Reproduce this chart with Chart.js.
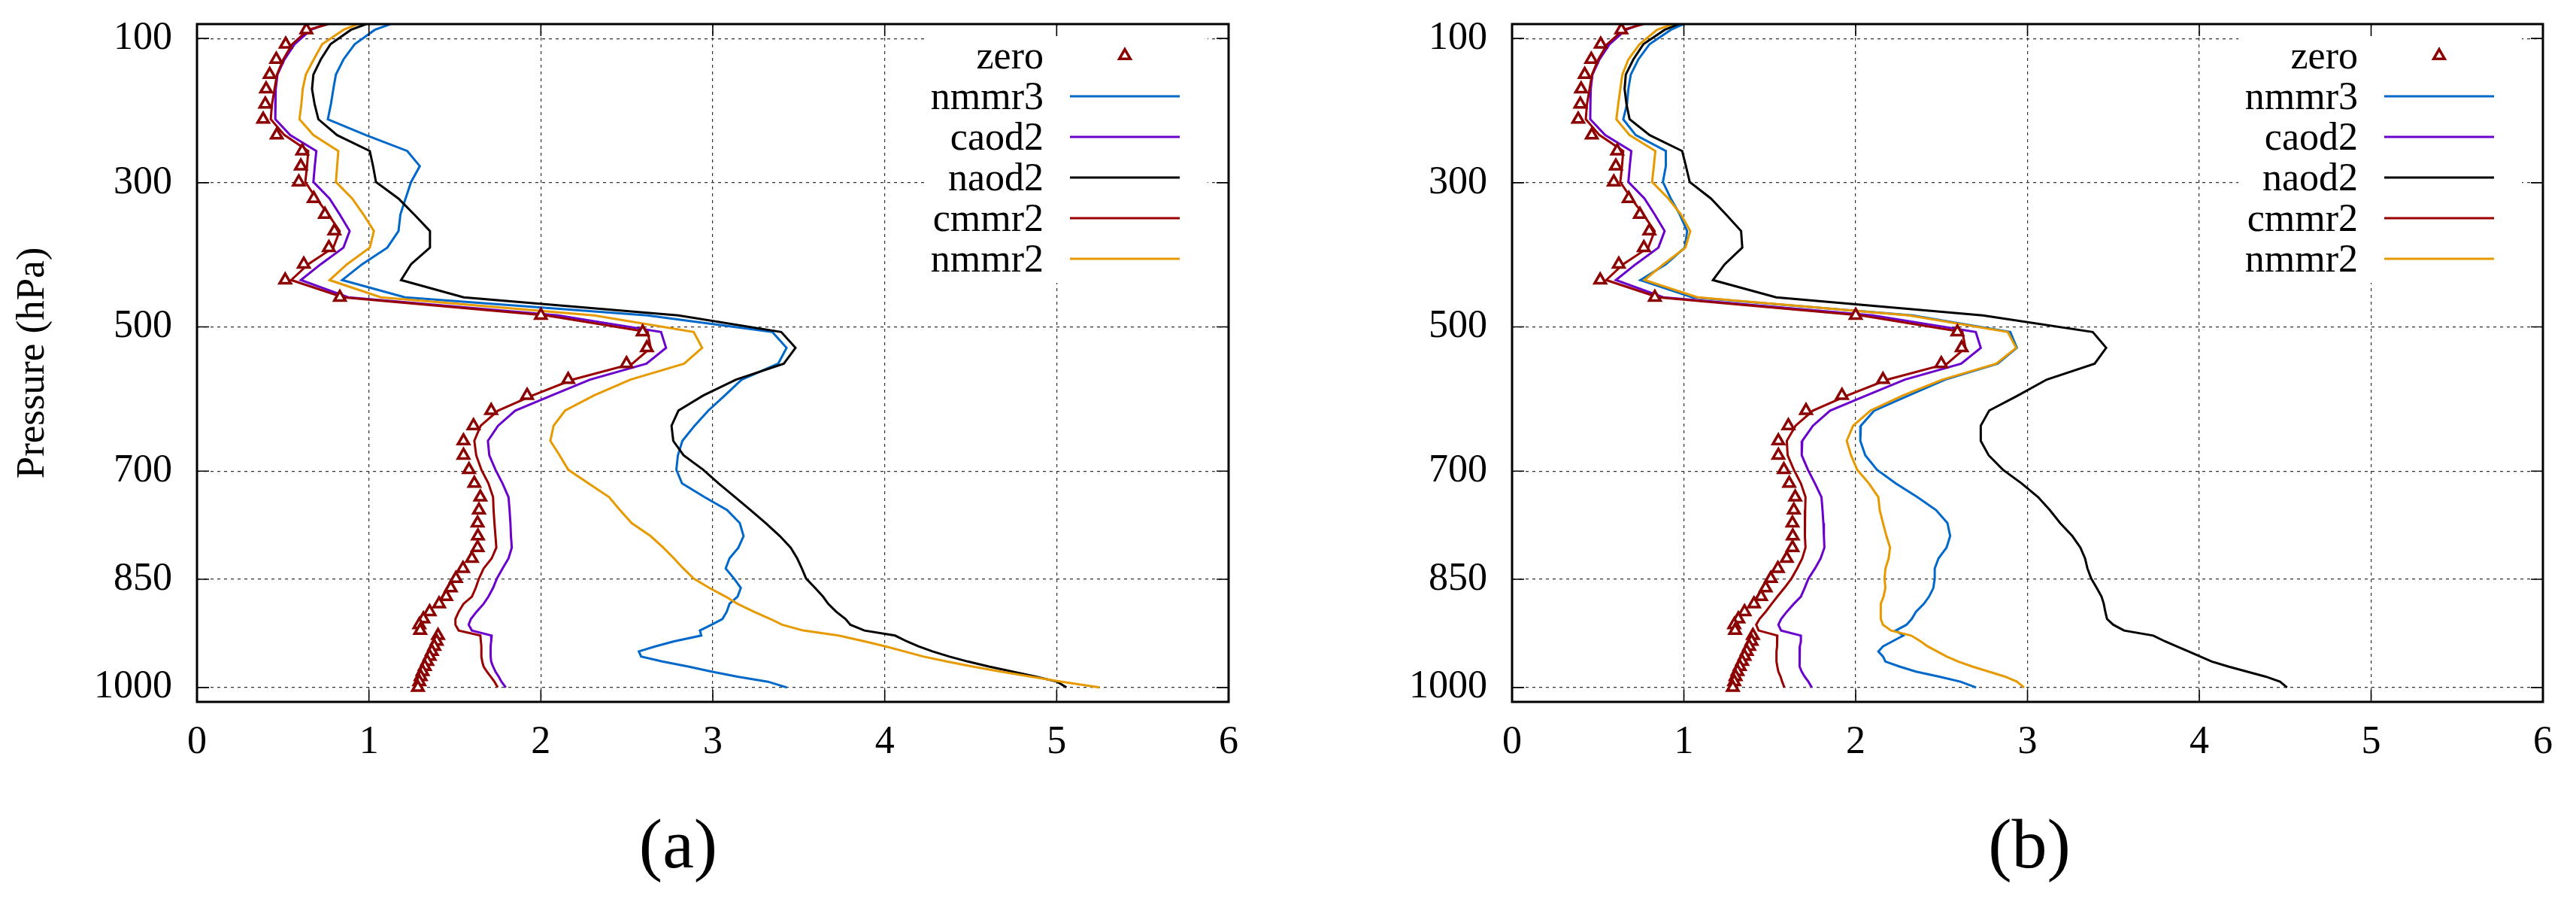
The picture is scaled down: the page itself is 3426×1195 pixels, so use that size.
<!DOCTYPE html>
<html>
<head>
<meta charset="utf-8">
<title>Pressure profiles</title>
<script src="https://cdn.jsdelivr.net/npm/chart.js@4.4.1/dist/chart.umd.min.js"></script>
<style>
  html, body { margin: 0; padding: 0; background: #fff; }
  body { width: 3426px; height: 1195px; position: relative; overflow: hidden; }
  canvas { position: absolute; top: 0; }
  #chartA { left: 0; }
  #chartB { left: 1713px; }
</style>
</head>
<body>
<canvas id="chartA" width="1713" height="1195"></canvas>
<canvas id="chartB" width="1713" height="1195"></canvas>
<script>
// pressure levels (hPa) from the top of the plot down to the surface
const levels = [80, 88, 108, 129, 150, 170, 191, 212, 234, 256,
  277, 299, 322, 344, 367, 390, 413, 435, 459, 484,
  507, 529, 551, 573, 595, 616, 637, 658, 678, 698,
  717, 736, 754, 772, 790, 806, 821, 835, 849, 862,
  874, 884, 895, 905, 913, 921, 928, 936, 943, 950,
  957, 964, 971, 978, 985, 992, 1000];

const pressureTicks = [100, 300, 500, 700, 850, 1000];
const xTicks = [0, 1, 2, 3, 4, 5, 6];

const seriesNames = ["zero", "nmmr3", "caod2", "naod2", "cmmr2", "nmmr2"];
const seriesColors = ["#8b0000", "#0068c9", "#6a00cc", "#000000", "#990000", "#e69a00"];

// control run, same in both panels
const zero = [null, 0.636, 0.516, 0.461, 0.423, 0.402, 0.397, 0.385, 0.464, 0.612,
  0.604, 0.592, 0.679, 0.744, 0.799, 0.767, 0.621, 0.513, 0.831, 2.00,
  2.592, 2.617, 2.498, 2.159, 1.920, 1.711, 1.608, 1.550, 1.550, 1.582,
  1.613, 1.648, 1.640, 1.632, 1.634, 1.632, 1.599, 1.547, 1.506, 1.476,
  1.449, 1.408, 1.353, 1.317, 1.293, 1.298, 1.402, 1.394, 1.380, 1.366,
  1.353, 1.339, 1.325, 1.312, 1.301, 1.293, 1.285];

// panel (a)
const nmmr3A = [1.125, 1.034, 0.917, 0.852, 0.808, 0.793, 0.779, 0.761, 0.983, 1.223,
  1.296, 1.245, 1.213, 1.183, 1.172, 1.107, 0.961, 0.844, 1.21, 2.62,
  3.346, 3.429, 3.380, 3.168, 3.07, 2.974, 2.894, 2.823, 2.797, 2.788,
  2.821, 2.952, 3.083, 3.157, 3.179, 3.149, 3.097, 3.075, 3.124, 3.163,
  3.144, 3.097, 3.081, 3.056, 2.993, 2.925, 2.933, 2.775, 2.665, 2.570,
  2.583, 2.706, 2.857, 2.993, 3.144, 3.321, 3.431];
const caod2A = [0.750, 0.662, 0.567, 0.509, 0.468, 0.458, 0.456, 0.455, 0.542, 0.694,
  0.685, 0.677, 0.771, 0.830, 0.888, 0.852, 0.720, 0.604, 0.88, 2.10,
  2.699, 2.728, 2.614, 2.286, 2.063, 1.851, 1.751, 1.692, 1.700, 1.736,
  1.777, 1.812, 1.818, 1.823, 1.826, 1.831, 1.812, 1.777, 1.744, 1.722,
  1.695, 1.667, 1.626, 1.593, 1.580, 1.599, 1.714, 1.711, 1.708, 1.708,
  1.708, 1.711, 1.722, 1.736, 1.755, 1.771, 1.796];
const naod2A = [0.985, 0.895, 0.776, 0.720, 0.677, 0.669, 0.684, 0.706, 0.815, 1.005,
  1.024, 1.041, 1.172, 1.263, 1.355, 1.355, 1.245, 1.187, 1.551, 2.80,
  3.398, 3.481, 3.413, 3.135, 2.945, 2.80, 2.76, 2.770, 2.83, 2.944,
  3.034, 3.130, 3.220, 3.308, 3.390, 3.453, 3.491, 3.518, 3.543, 3.595,
  3.641, 3.671, 3.718, 3.772, 3.800, 3.882, 4.060, 4.128, 4.196, 4.278,
  4.374, 4.483, 4.606, 4.743, 4.880, 5.003, 5.057];
const cmmr2A = [0.764, 0.647, 0.553, 0.502, 0.465, 0.451, 0.436, 0.429, 0.509, 0.647,
  0.640, 0.630, 0.694, 0.764, 0.830, 0.793, 0.647, 0.548, 0.851, 2.03,
  2.621, 2.639, 2.532, 2.186, 1.952, 1.751, 1.650, 1.613, 1.624, 1.654,
  1.695, 1.722, 1.725, 1.730, 1.736, 1.741, 1.714, 1.667, 1.640, 1.621,
  1.599, 1.550, 1.522, 1.503, 1.503, 1.522, 1.648, 1.651, 1.654, 1.654,
  1.654, 1.659, 1.667, 1.686, 1.708, 1.730, 1.749];
const nmmr2A = [0.935, 0.852, 0.728, 0.679, 0.633, 0.615, 0.607, 0.596, 0.677, 0.822,
  0.815, 0.808, 0.903, 0.968, 1.029, 1.005, 0.873, 0.771, 1.07, 2.31,
  2.889, 2.938, 2.833, 2.521, 2.309, 2.141, 2.074, 2.055, 2.109, 2.159,
  2.277, 2.397, 2.460, 2.528, 2.638, 2.712, 2.774, 2.829, 2.889, 2.980,
  3.075, 3.144, 3.239, 3.335, 3.403, 3.526, 3.731, 3.882, 4.005, 4.114,
  4.223, 4.360, 4.511, 4.675, 4.852, 5.030, 5.249];

// panel (b)
const nmmr3B = [1.00, 0.924, 0.800, 0.735, 0.691, 0.677, 0.669, 0.647, 0.720, 0.895,
  0.895, 0.878, 0.924, 0.976, 1.019, 1.005, 0.895, 0.747, 1.05, 2.33,
  2.900, 2.938, 2.826, 2.521, 2.309, 2.108, 2.030, 2.027, 2.056, 2.124,
  2.233, 2.359, 2.468, 2.534, 2.550, 2.529, 2.482, 2.460, 2.460, 2.452,
  2.427, 2.397, 2.351, 2.326, 2.296, 2.233, 2.277, 2.214, 2.159, 2.132,
  2.159, 2.173, 2.255, 2.351, 2.487, 2.610, 2.701];
const caod2B = [0.750, 0.662, 0.567, 0.509, 0.468, 0.458, 0.456, 0.455, 0.542, 0.694,
  0.685, 0.677, 0.771, 0.830, 0.888, 0.852, 0.720, 0.604, 0.88, 2.10,
  2.699, 2.728, 2.614, 2.286, 2.063, 1.851, 1.751, 1.689, 1.686, 1.722,
  1.763, 1.801, 1.807, 1.812, 1.815, 1.818, 1.796, 1.763, 1.725, 1.703,
  1.681, 1.640, 1.599, 1.566, 1.550, 1.566, 1.681, 1.681, 1.675, 1.673,
  1.673, 1.673, 1.675, 1.686, 1.703, 1.725, 1.744];
const naod2B = [0.97, 0.888, 0.764, 0.706, 0.662, 0.655, 0.666, 0.684, 0.801, 0.990,
  1.012, 1.034, 1.158, 1.245, 1.333, 1.340, 1.238, 1.169, 1.537, 2.74,
  3.380, 3.458, 3.391, 3.112, 2.945, 2.777, 2.728, 2.728, 2.774, 2.857,
  2.966, 3.062, 3.130, 3.190, 3.261, 3.308, 3.335, 3.349, 3.371, 3.403,
  3.431, 3.444, 3.453, 3.463, 3.499, 3.562, 3.732, 3.800, 3.868, 3.937,
  4.005, 4.073, 4.169, 4.278, 4.387, 4.470, 4.511];
const cmmr2B = [0.764, 0.647, 0.553, 0.502, 0.465, 0.451, 0.436, 0.429, 0.509, 0.647,
  0.640, 0.630, 0.694, 0.764, 0.830, 0.793, 0.647, 0.548, 0.851, 2.03,
  2.621, 2.639, 2.532, 2.186, 1.952, 1.751, 1.650, 1.599, 1.604, 1.640,
  1.681, 1.708, 1.706, 1.703, 1.706, 1.708, 1.689, 1.659, 1.626, 1.585,
  1.544, 1.511, 1.476, 1.440, 1.421, 1.435, 1.544, 1.544, 1.541, 1.539,
  1.539, 1.539, 1.544, 1.550, 1.563, 1.572, 1.585];
const nmmr2B = [0.935, 0.844, 0.742, 0.677, 0.642, 0.630, 0.618, 0.607, 0.684, 0.834,
  0.825, 0.815, 0.910, 0.983, 1.037, 1.009, 0.881, 0.771, 1.08, 2.31,
  2.885, 2.934, 2.818, 2.505, 2.275, 2.086, 1.985, 1.948, 1.973, 2.009,
  2.077, 2.132, 2.140, 2.159, 2.179, 2.200, 2.192, 2.173, 2.168, 2.173,
  2.162, 2.146, 2.146, 2.146, 2.159, 2.206, 2.323, 2.378, 2.419, 2.474,
  2.529, 2.597, 2.679, 2.775, 2.870, 2.939, 2.980];

const FONT = "'Liberation Serif', 'DejaVu Serif', serif";
Chart.defaults.font.family = FONT;
Chart.defaults.color = "#000";

function toPoints(values) {
  return levels.map((p, i) => ({ x: values[i], y: p })).filter(d => d.x !== null);
}

function makeDatasets(lines) {
  const sets = [{
    label: seriesNames[0],
    data: toPoints(zero),
    showLine: false,
    order: -1,
    pointStyle: "triangle",
    pointRadius: 8.5,
    pointBorderWidth: 3.5,
    pointBackgroundColor: "#fff",
    pointBorderColor: seriesColors[0],
    borderColor: seriesColors[0],
  }];
  lines.forEach((vals, k) => {
    sets.push({
      label: seriesNames[k + 1],
      data: toPoints(vals),
      showLine: true,
      order: lines.length - k,
      pointRadius: 0,
      borderWidth: 3,
      borderColor: seriesColors[k + 1],
      backgroundColor: seriesColors[k + 1],
      tension: 0,
    });
  });
  return sets;
}

// gnuplot style frame with inward ticks on all four sides
const frame = {
  id: "frame",
  afterDraw(chart) {
    const { ctx, chartArea: a, scales: { x, y } } = chart;
    ctx.save();
    ctx.strokeStyle = "#000";
    ctx.lineWidth = 1.6;
    ctx.beginPath();
    x.ticks.forEach(t => {
      const px = x.getPixelForValue(t.value);
      ctx.moveTo(px, a.bottom); ctx.lineTo(px, a.bottom - 16);
      ctx.moveTo(px, a.top); ctx.lineTo(px, a.top + 16);
    });
    y.ticks.forEach(t => {
      const py = y.getPixelForValue(t.value);
      ctx.moveTo(a.left, py); ctx.lineTo(a.left + 16, py);
      ctx.moveTo(a.right, py); ctx.lineTo(a.right - 16, py);
    });
    ctx.stroke();
    ctx.lineWidth = 3;
    ctx.strokeRect(a.left, a.top, a.right - a.left, a.bottom - a.top);
    ctx.restore();
  }
};

// key in the top right corner: label first, sample after it
const key = {
  id: "key",
  afterDatasetsDraw(chart) {
    const { ctx, chartArea: a } = chart;
    ctx.save();
    ctx.fillStyle = "#fff";
    ctx.fillRect(a.right - 405, a.top + 4, 377, 340);
    ctx.font = "52px " + FONT;
    ctx.textAlign = "right";
    ctx.textBaseline = "middle";
    chart.data.datasets.forEach((ds, i) => {
      const rowY = a.top + 42 + i * 54;
      ctx.fillStyle = "#000";
      ctx.fillText(ds.label, a.right - 246, rowY + 3);
      if (ds.showLine) {
        ctx.strokeStyle = ds.borderColor;
        ctx.lineWidth = ds.borderWidth;
        ctx.beginPath();
        ctx.moveTo(a.right - 211, rowY);
        ctx.lineTo(a.right - 65, rowY);
        ctx.stroke();
      } else {
        ctx.fillStyle = "#fff";
        ctx.strokeStyle = ds.pointBorderColor;
        ctx.lineWidth = ds.pointBorderWidth;
        Chart.helpers.drawPoint(ctx, {
          pointStyle: "triangle", radius: ds.pointRadius, borderWidth: ds.pointBorderWidth, rotation: 0
        }, a.right - 138, rowY);
      }
    });
    ctx.restore();
  }
};

// sub-figure caption under the axis
const caption = {
  id: "caption",
  afterDraw(chart, args, opts) {
    const ctx = chart.ctx;
    ctx.save();
    ctx.font = "94px " + FONT;
    ctx.fillStyle = "#000";
    ctx.textAlign = "center";
    ctx.textBaseline = "middle";
    ctx.fillText(opts.text, opts.x, 1128);
    ctx.restore();
  }
};

function buildChart(id, lines, axisLeft, padRight, yTitle, capText, capX) {
  const ctx = document.getElementById(id).getContext("2d");
  return new Chart(ctx, {
    type: "scatter",
    data: { datasets: makeDatasets(lines) },
    options: {
      responsive: false,
      animation: false,
      devicePixelRatio: 1,
      layout: { padding: { left: 0, top: 32, right: padRight, bottom: 0 } },
      plugins: {
        legend: { display: false },
        tooltip: { enabled: false },
        caption: { text: capText, x: capX },
      },
      scales: {
        x: {
          type: "linear",
          min: 0,
          max: 6,
          afterBuildTicks: s => { s.ticks = xTicks.map(v => ({ value: v })); },
          ticks: { padding: 23, font: { size: 52 }, callback: v => String(v) },
          grid: { drawTicks: false, color: "#333", lineWidth: 1.2 },
          border: { display: false, dash: [4, 5] },
          afterFit: s => { s.height = 262; s.paddingLeft = 0; s.paddingRight = 0; },
        },
        y: {
          type: "linear",
          reverse: true,
          min: 80,
          max: 1020,
          afterBuildTicks: s => { s.ticks = pressureTicks.map(v => ({ value: v })); },
          ticks: { padding: 33, font: { size: 52 }, callback: v => String(v) },
          grid: { drawTicks: false, color: "#333", lineWidth: 1.2 },
          border: { display: false, dash: [4, 5] },
          title: {
            display: !!yTitle,
            text: yTitle || "",
            font: { size: 53 },
            padding: { top: 12, bottom: 0 },
          },
          afterFit: s => { s.width = axisLeft; s.paddingTop = 0; s.paddingBottom = 0; },
        },
      },
    },
    plugins: [key, frame, caption],
  });
}

buildChart("chartA", [nmmr3A, caod2A, naod2A, cmmr2A, nmmr2A], 262, 79, "Pressure (hPa)", "(a)", 902);
buildChart("chartB", [nmmr3B, caod2B, naod2B, cmmr2B, nmmr2B], 298, 44, null, "(b)", 986);
</script>
</body>
</html>
